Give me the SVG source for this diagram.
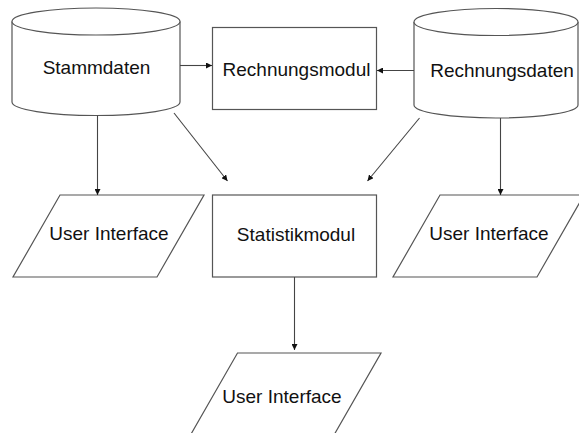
<svg xmlns="http://www.w3.org/2000/svg" width="579" height="433" viewBox="0 0 579 433">
<style>
.shape{fill:#fff;stroke:#555;stroke-width:1.2}
.lbl{font-family:"Liberation Sans",Arial,sans-serif;font-size:19px;fill:#111;text-anchor:middle}
.conn line{stroke:#444;stroke-width:1.1;marker-end:url(#ah)}
</style>
<defs>
<marker id="ah" viewBox="0 0 10 10" refX="10" refY="5" markerWidth="6" markerHeight="6" markerUnits="userSpaceOnUse" orient="auto">
<path d="M0,0 L10,5 L0,10 Z" fill="#111"/>
</marker>
</defs>
<rect width="579" height="433" fill="#fff"/>
<g id="stammdaten">
<path class="shape" d="M12,21.5 V102 A84,13.5 0 0 0 180,102 V21.5"/>
<ellipse class="shape" cx="96" cy="21.5" rx="84" ry="13.5"/>
<text class="lbl" x="96.5" y="74">Stammdaten</text>
</g>
<g id="rechnungsmodul">
<rect class="shape" x="212.5" y="27.5" width="164" height="82"/>
<text class="lbl" x="296.5" y="76">Rechnungsmodul</text>
</g>
<g id="rechnungsdaten">
<path class="shape" d="M414,22 V105 A82,13 0 0 0 578,105 V22"/>
<ellipse class="shape" cx="496" cy="22" rx="82" ry="13.5"/>
<text class="lbl" x="502" y="77">Rechnungsdaten</text>
</g>
<g id="ui-left">
<polygon class="shape" points="60,195 204,195 157,277 13,277"/>
<text class="lbl" x="109" y="240">User Interface</text>
</g>
<g id="statistikmodul">
<rect class="shape" x="212.5" y="195" width="164" height="82"/>
<text class="lbl" x="296" y="241">Statistikmodul</text>
</g>
<g id="ui-right">
<polygon class="shape" points="440,195 584,195 537,277 393,277"/>
<text class="lbl" x="489" y="240">User Interface</text>
</g>
<g id="ui-bottom">
<polygon class="shape" points="237.5,353 381,353 334,435 190.5,435"/>
<text class="lbl" x="282" y="403">User Interface</text>
</g>
<g class="conn" id="connectors">
<line x1="180" y1="65.5" x2="212" y2="65.5"/>
<line x1="414" y1="70.5" x2="377" y2="70.5"/>
<line x1="97.5" y1="115.5" x2="97.5" y2="195"/>
<line x1="500.5" y1="118" x2="500.5" y2="195"/>
<line x1="174" y1="113" x2="227.5" y2="181"/>
<line x1="419.5" y1="118" x2="367.5" y2="181"/>
<line x1="294.5" y1="277" x2="294.5" y2="350"/>
</g>
</svg>
